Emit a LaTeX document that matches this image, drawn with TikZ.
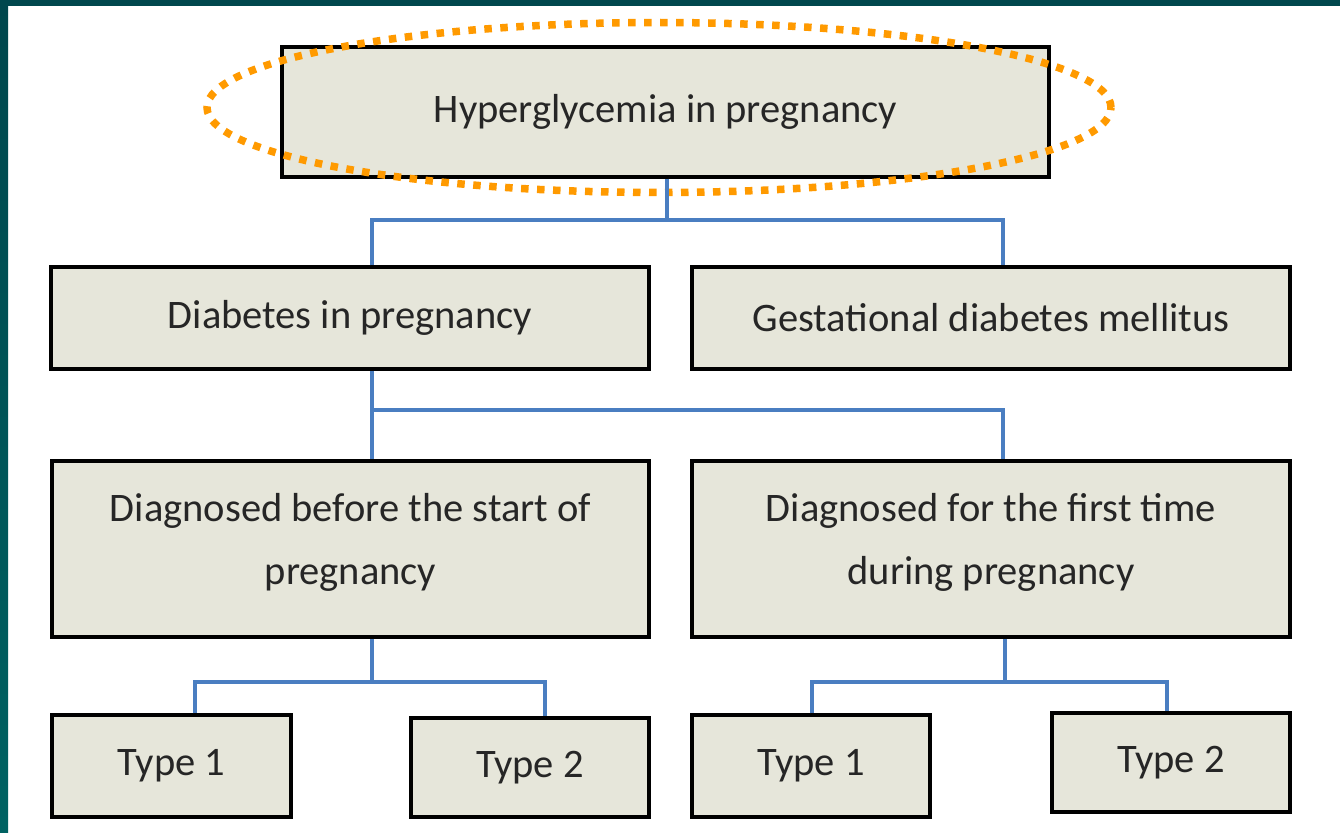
\documentclass[tikz,border=0pt]{standalone}
\usepackage{fontspec}
\setmainfont{Carlito}
\usetikzlibrary{calc,shapes.geometric}
\definecolor{boxfill}{HTML}{E6E6DA}
\definecolor{linkblue}{HTML}{4A7EC1}
\definecolor{dotorange}{HTML}{FF9A00}
\definecolor{frametop}{HTML}{00474D}
\definecolor{framebot}{HTML}{006262}
\definecolor{txt}{HTML}{262626}
\begin{document}
\begin{tikzpicture}[x=1pt,y=-1pt,
  box/.style={draw=black,line width=3.5pt,fill=boxfill,inner sep=0pt,
    font=\fontsize{40.5}{63}\selectfont,text=txt,align=center},
  link/.style={draw=linkblue,line width=3.2pt}]
\useasboundingbox (0,0) rectangle (1340,832);
\fill[white] (0,0) rectangle (1340,832);
\shade[top color=frametop,bottom color=framebot] (0,0) rectangle (8,832);
\fill[frametop] (0,0) rectangle (1340,6);
% boxes
\node[box,minimum width=767pt,minimum height=130pt] (hip) at (665.5,112) {Hyperglycemia in pregnancy};
\node[box,minimum width=598pt,minimum height=102pt] (dip) at (350,318) {Diabetes in pregnancy};
\node[box,minimum width=598pt,minimum height=102pt] (gdm) at (991,318) {Gestational diabetes mellitus};
\node[box,minimum width=597pt,minimum height=176pt] (bef) at (350.5,549) {Diagnosed before the start of\\pregnancy\rule[-20pt]{0pt}{1pt}};
\node[box,minimum width=598pt,minimum height=176pt] (fir) at (991,549) {Diagnosed for the first time\\during pregnancy\rule[-20pt]{0pt}{1pt}};
\node[box,minimum width=239pt,minimum height=102pt] (t1a) at (171.5,766) {Type 1};
\node[box,minimum width=238pt,minimum height=99pt] (t2a) at (530,767.5) {Type 2};
\node[box,minimum width=238pt,minimum height=102pt] (t1b) at (811,766) {Type 1};
\node[box,minimum width=238pt,minimum height=99pt] (t2b) at (1171,762.5) {Type 2};
% ellipse
\node[draw=dotorange,line width=7.5pt,dash pattern=on 7.5pt off 8.5pt,ellipse,inner sep=0pt,
  minimum width=904pt,minimum height=170pt] (ell) at (659,107.5) {};
% connector coordinates
\coordinate (xa) at (372,0);
\coordinate (xb) at (1003,0);
\coordinate (xc) at (195,0);
\coordinate (xd) at (545,0);
\coordinate (xe) at (812,0);
\coordinate (xf) at (1167,0);
\coordinate (j1) at (667,220);
\coordinate (j2) at (372,410);
\coordinate (j3) at (372,682);
\coordinate (j4) at (1005,682);
\draw[link] (j1 |- hip.south) -- (j1);
\draw[link] (xa |- dip.north) -- (372,220) -- (1003,220) -- (xb |- gdm.north);
\draw[link] (j2 |- dip.south) -- (j2 |- bef.north);
\draw[link] (j2) -- (1003,410) -- (xb |- fir.north);
\draw[link] (j3 |- bef.south) -- (j3);
\draw[link] (xc |- t1a.north) -- (195,682) -- (545,682) -- (xd |- t2a.north);
\draw[link] (j4 |- fir.south) -- (j4);
\draw[link] (xe |- t1b.north) -- (812,682) -- (1167,682) -- (xf |- t2b.north);
\end{tikzpicture}
\end{document}
